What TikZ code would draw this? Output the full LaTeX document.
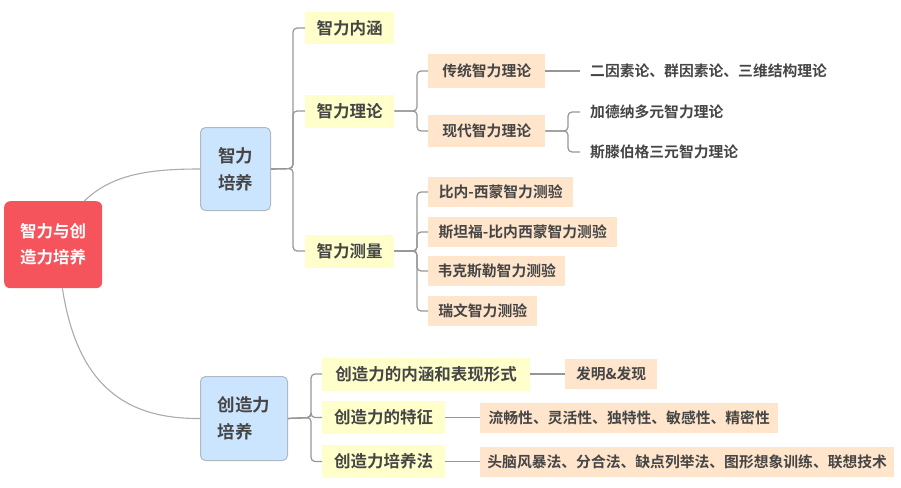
\documentclass[tikz,border=0pt]{standalone}
\usepackage{fontspec}
\setmainfont{Noto Sans CJK SC}[BoldFont={Noto Sans CJK SC Bold}]
\definecolor{rootred}{RGB}{245,84,92}
\definecolor{bluebox}{RGB}{204,229,255}
\definecolor{blueedge}{RGB}{175,185,195}
\definecolor{yellowbox}{RGB}{255,255,204}
\definecolor{peachbox}{RGB}{255,229,204}
\definecolor{txt}{RGB}{69,69,69}
\definecolor{linegray}{RGB}{150,150,150}
\tikzset{
  rootbox/.style={fill=rootred, rounded corners=6pt, text=white, align=center, inner sep=0pt,
    font=\bfseries\fontsize{16.5}{26}\selectfont},
  mainbox/.style={fill=bluebox, draw=blueedge, line width=1pt, rounded corners=5pt, text=txt, align=left, inner sep=0pt,
    font=\bfseries\fontsize{17.5}{27}\selectfont},
  subbox/.style={fill=yellowbox, text=txt, inner sep=0pt, anchor=west,
    font=\bfseries\fontsize{16.5}{20}\selectfont},
  leafbox/.style={fill=peachbox, text=txt, inner sep=0pt, anchor=west,
    font=\bfseries\fontsize{14.8}{18}\selectfont},
  leaftext/.style={text=txt, inner sep=0pt, anchor=west,
    font=\bfseries\fontsize{14.8}{18}\selectfont},
  conn/.style={draw=linegray, line width=1.2pt, rounded corners=4pt},
  curve/.style={draw=linegray!80, line width=1.1pt},
}
\begin{document}
\begin{tikzpicture}[x=1pt,y=-1pt]
\useasboundingbox (0,0) rectangle (901,487);
% root and main branches
\node[rootbox, minimum width=98, minimum height=87, anchor=north west] (root) at (4,201) {智力与创\\造力培养};
\node[mainbox, minimum width=70, minimum height=83, anchor=north west] (zl) at (200,127) {智力\hspace{8pt}\\培养\hspace{8pt}};
\node[mainbox, minimum width=87, minimum height=84, anchor=north west] (cz) at (200,376) {创造力\hspace{6pt}\\培养\hspace{23pt}};
\coordinate (rtop) at ([xshift=-18pt]root.north east);
\coordinate (rbot) at ([xshift=-40pt]root.south east);
\draw[curve] (rtop) .. controls (112,174) and (150,169) .. (zl.west);
\draw[curve] (rbot) .. controls (78,390) and (130,419) .. (cz.west);
% level 2 under 智力培养
\node[subbox, minimum width=89, minimum height=32] (nh) at (305,28) {智力内涵};
\node[subbox, minimum width=89, minimum height=33] (ll) at (305,111) {智力理论};
\node[subbox, minimum width=89, minimum height=33] (cl) at (305,251) {智力测量};
\foreach \c in {nh,ll,cl} \draw[conn] (zl.east) -- (293,168.5) |- (\c.west);
% 智力理论 children
\node[leafbox, minimum width=117, minimum height=33] (ct) at (428,71) {传统智力理论};
\node[leafbox, minimum width=117, minimum height=32] (xd) at (428,131) {现代智力理论};
\foreach \c in {ct,xd} \draw[conn] (ll.east) -- (417,111) |- (\c.west);
\node[leaftext] (ey) at (590,71) {二因素论、群因素论、三维结构理论};
\coordinate (eyin) at (580,71);
\draw[conn] (ct.east) -- (eyin);
\node[leaftext] (jd) at (590,112) {加德纳多元智力理论};
\node[leaftext] (st) at (590,152) {斯滕伯格三元智力理论};
\coordinate (jdin) at (580,112);
\coordinate (stin) at (580,152);
\foreach \c in {jdin,stin} \draw[conn] (xd.east) -- (568,131) |- (\c);
% 智力测量 children
\node[leafbox, minimum width=145, minimum height=30] (bn) at (428,192) {比内-西蒙智力测验};
\node[leafbox, minimum width=189, minimum height=30] (sf) at (428,232) {斯坦福-比内西蒙智力测验};
\node[leafbox, minimum width=137, minimum height=30] (wk) at (428,271) {韦克斯勒智力测验};
\node[leafbox, minimum width=109, minimum height=30] (rw) at (428,311) {瑞文智力测验};
\foreach \c in {bn,sf,wk,rw} \draw[conn] (cl.east) -- (417,251) |- (\c.west);
% level 2 under 创造力培养
\node[subbox, minimum width=208, minimum height=33] (cnh) at (322,374) {创造力的内涵和表现形式};
\node[subbox, minimum width=123, minimum height=33] (ctz) at (322,417.5) {创造力的特征};
\node[subbox, minimum width=123, minimum height=33] (cff) at (322,461.5) {创造力培养法};
\foreach \c in {cnh,ctz,cff} \draw[conn] (cz.east) -- (311,417.5) |- (\c.west);
% level 3 under 创造力培养
\node[leafbox, minimum width=92, minimum height=30] (fm) at (565,374) {发明\&发现};
\node[leafbox, minimum width=298, minimum height=30] (lc) at (480,417.5) {流畅性、灵活性、独特性、敏感性、精密性};
\node[leafbox, minimum width=414, minimum height=30] (tn) at (480,461.5) {头脑风暴法、分合法、缺点列举法、图形想象训练、联想技术};
\draw[conn] (cnh.east) -- (fm.west);
\draw[conn] (ctz.east) -- (lc.west);
\draw[conn] (cff.east) -- (tn.west);
\end{tikzpicture}
\end{document}
